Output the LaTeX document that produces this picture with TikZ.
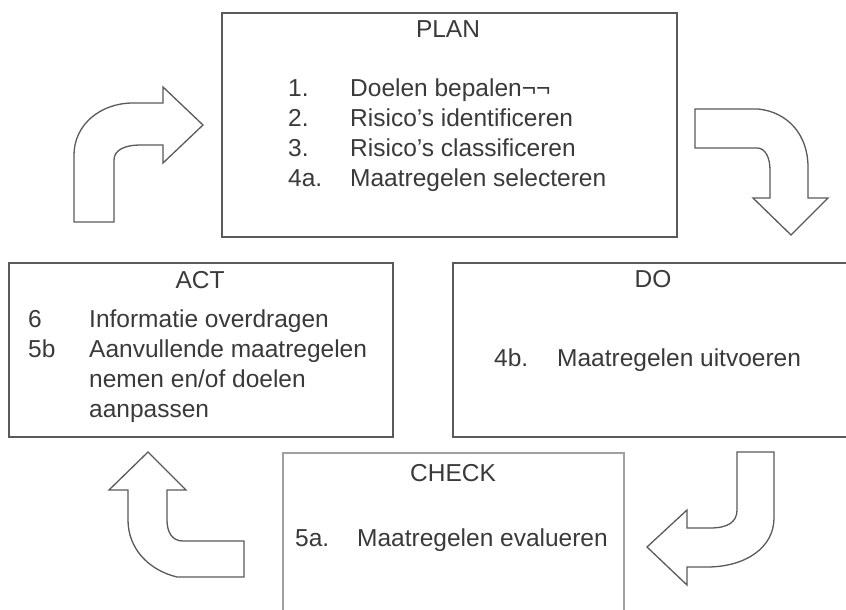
\documentclass[tikz,border=0pt]{standalone}
\usepackage{fontspec}
\setmainfont{Liberation Sans}
\definecolor{edge}{HTML}{5A5A5A}
\definecolor{edgelight}{HTML}{A0A0A0}
\definecolor{ink}{HTML}{3A3A3A}
\begin{document}
\begin{tikzpicture}[x=1pt,y=-1pt,
  box/.style={draw=edge,line width=1.8pt,rectangle,anchor=north west,inner sep=0pt},
  boxlight/.style={box,draw=edgelight},
  txt/.style={anchor=base west,inner sep=0pt,text=ink,font=\fontsize{24.5}{30}\selectfont},
  ttl/.style={anchor=base,inner sep=0pt,text=ink,font=\fontsize{24.5}{30}\selectfont},
  blockarrow/.style={draw=edge,line width=1.3pt,fill=white,line join=miter}
]
\useasboundingbox (0,0) rectangle (846,610);
\fill[white] (0,0) rectangle (846,610);

% boxes
\node[box,minimum width=455pt,minimum height=224pt] (plan) at (221,12) {};
\node[box,minimum width=384pt,minimum height=174pt] (act) at (8,262) {};
\node[box,minimum width=400pt,minimum height=174pt] (do) at (452,262) {};
\node[boxlight,minimum width=341pt,minimum height=170pt] (check) at (282,452) {};

% PLAN text
\node[ttl] (plant) at (448,38) {PLAN};
\node[txt] (p1n) at (288,96) {1.};
\node[txt] (p1) at (350,96) {Doelen bepalen¬¬};
\node[txt] (p2n) at (288,126) {2.};
\node[txt] (p2) at (350,126) {Risico’s identificeren};
\node[txt] (p3n) at (288,156) {3.};
\node[txt] (p3) at (350,156) {Risico’s classificeren};
\node[txt] (p4n) at (288,186) {4a.};
\node[txt] (p4) at (350,186) {Maatregelen selecteren};

% ACT text
\node[ttl] (actt) at (200,288) {ACT};
\node[txt] (a1n) at (28,327) {6};
\node[txt] (a1) at (89,327) {Informatie overdragen};
\node[txt] (a2n) at (28,357) {5b};
\node[txt] (a2) at (89,357) {Aanvullende maatregelen};
\node[txt] (a3) at (89,387) {nemen en/of doelen};
\node[txt] (a4) at (89,417) {aanpassen};

% DO text
\node[ttl] (dot) at (653,287) {DO};
\node[txt] (d1n) at (494,366) {4b.};
\node[txt] (d1) at (557,366) {Maatregelen uitvoeren};

% CHECK text
\node[ttl] (checkt) at (453,481) {CHECK};
\node[txt] (c1n) at (295,546) {5a.};
\node[txt] (c1) at (357,546) {Maatregelen evalueren};

% block arrows
% ACT -> PLAN
\draw[blockarrow] (74,222) -- (74,155) .. controls (74,125) and (100,103) .. (133,103)
  -- (163,103) -- (163,87) -- (203,125) -- (163,163) -- (163,145) -- (140,145)
  .. controls (125,145) and (114,150) .. (114,160) -- (114,222) -- cycle;
% PLAN -> DO
\draw[blockarrow] (695,109) -- (758,109) .. controls (788,112) and (808,135) .. (808,167)
  -- (808,198) -- (828,198) -- (791,235) -- (753,198) -- (770,198) -- (770,170)
  .. controls (770,157) and (765,148) .. (757,148) -- (695,148) -- cycle;
% DO -> CHECK
\draw[blockarrow] (737,452) -- (774,452) -- (774,518) .. controls (774,548) and (745,567) .. (707,567)
  -- (687,567) -- (687,585) -- (647,547) -- (687,510) -- (687,528) -- (710,528)
  .. controls (728,528) and (737,522) .. (737,510) -- cycle;
% CHECK -> ACT
\draw[blockarrow] (244,541) -- (244,577) -- (177,577) .. controls (148,570) and (128,548) .. (128,520)
  -- (128,490) -- (109,490) -- (148,452) -- (186,490) -- (167,490) -- (167,520)
  .. controls (167,532) and (172,541) .. (183,541) -- cycle;
\end{tikzpicture}
\end{document}
